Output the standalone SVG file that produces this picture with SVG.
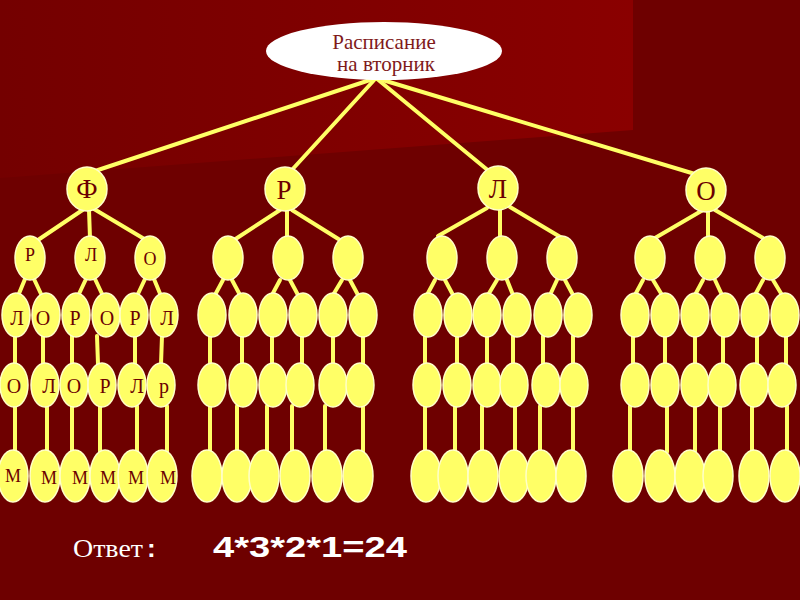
<svg xmlns="http://www.w3.org/2000/svg" width="800" height="600" viewBox="0 0 800 600">
<defs>
<linearGradient id="pg" x1="0" y1="0" x2="1" y2="0">
<stop offset="0" stop-color="#740000"/>
<stop offset="1" stop-color="#8A0000"/>
</linearGradient>
<style>
.c line{stroke:#FFFF66;stroke-width:4;stroke-linecap:round}
.n{fill:#FFFF66;stroke:#FFFFC8;stroke-width:1.5}
.t{font-family:"Liberation Serif","Times New Roman",serif;fill:#6B0000;text-anchor:middle}
.t1{font-size:27px}
.t2{font-size:18px}
.t3{font-size:20px}
.t5{font-size:18px}
</style>
</defs>
<rect width="800" height="600" fill="#6E0000"/>
<polygon points="0,0 633,0 633,130 0,178" fill="url(#pg)"/>

<g id="connectors" class="c">
<line x1="376" y1="78" x2="92" y2="172"/>
<line x1="376" y1="78" x2="290" y2="172"/>
<line x1="376" y1="78" x2="490" y2="172"/>
<line x1="376" y1="78" x2="695" y2="174"/>
<!-- Ф subtree -->
<line x1="84" y1="209" x2="38" y2="240"/><line x1="89" y1="210" x2="90" y2="238"/><line x1="94" y1="209" x2="146" y2="240"/>
<line x1="25" y1="279" x2="18" y2="296"/><line x1="34" y1="279" x2="42" y2="296"/>
<line x1="86" y1="279" x2="78" y2="296"/><line x1="95" y1="279" x2="103" y2="296"/>
<line x1="145" y1="279" x2="137" y2="296"/><line x1="154" y1="279" x2="161" y2="296"/>
<line x1="15" y1="336" x2="15" y2="364"/><line x1="43" y1="336" x2="43" y2="364"/><line x1="72" y1="336" x2="72" y2="364"/><line x1="97" y1="336" x2="98" y2="364"/><line x1="135" y1="336" x2="135" y2="364"/><line x1="162" y1="336" x2="161" y2="364"/>
<line x1="15" y1="406" x2="15" y2="452"/><line x1="47" y1="406" x2="47" y2="452"/><line x1="72" y1="406" x2="72" y2="452"/><line x1="100" y1="406" x2="100" y2="452"/><line x1="137" y1="406" x2="137" y2="452"/><line x1="167" y1="406" x2="167" y2="452"/>
<!-- Р subtree -->
<line x1="280" y1="210" x2="234" y2="240"/><line x1="287" y1="211" x2="287" y2="238"/><line x1="292" y1="210" x2="340" y2="240"/>
<line x1="223" y1="280" x2="215" y2="295"/><line x1="232" y1="280" x2="240" y2="295"/>
<line x1="280" y1="280" x2="272" y2="295"/><line x1="290" y1="280" x2="298" y2="295"/>
<line x1="342" y1="280" x2="333" y2="295"/><line x1="350" y1="280" x2="358" y2="295"/>
<line x1="210" y1="336" x2="210" y2="364"/><line x1="242" y1="336" x2="242" y2="364"/><line x1="272" y1="336" x2="272" y2="364"/><line x1="302" y1="336" x2="302" y2="364"/><line x1="333" y1="336" x2="333" y2="364"/><line x1="363" y1="336" x2="363" y2="364"/>
<line x1="210" y1="406" x2="210" y2="452"/><line x1="237" y1="406" x2="237" y2="452"/><line x1="267" y1="406" x2="267" y2="452"/><line x1="292" y1="406" x2="292" y2="452"/><line x1="325" y1="406" x2="325" y2="452"/><line x1="363" y1="406" x2="363" y2="452"/>
<!-- Л subtree -->
<line x1="487" y1="208" x2="438" y2="236"/><line x1="500" y1="210" x2="500" y2="237"/><line x1="510" y1="207" x2="562" y2="238"/>
<line x1="435" y1="280" x2="427" y2="295"/><line x1="445" y1="280" x2="453" y2="295"/>
<line x1="497" y1="280" x2="488" y2="295"/><line x1="507" y1="280" x2="513" y2="295"/>
<line x1="557" y1="280" x2="550" y2="295"/><line x1="565" y1="280" x2="573" y2="295"/>
<line x1="425" y1="336" x2="425" y2="364"/><line x1="457" y1="336" x2="457" y2="364"/><line x1="487" y1="336" x2="487" y2="364"/><line x1="513" y1="336" x2="513" y2="364"/><line x1="543" y1="336" x2="543" y2="364"/><line x1="573" y1="336" x2="573" y2="364"/>
<line x1="425" y1="406" x2="425" y2="452"/><line x1="455" y1="406" x2="455" y2="452"/><line x1="482" y1="406" x2="482" y2="452"/><line x1="515" y1="406" x2="515" y2="452"/><line x1="540" y1="406" x2="540" y2="452"/><line x1="573" y1="406" x2="573" y2="452"/>
<!-- О subtree -->
<line x1="703" y1="210" x2="655" y2="238"/><line x1="708" y1="210" x2="708" y2="238"/><line x1="715" y1="210" x2="763" y2="238"/>
<line x1="643" y1="280" x2="635" y2="295"/><line x1="653" y1="280" x2="662" y2="295"/>
<line x1="703" y1="280" x2="695" y2="295"/><line x1="715" y1="280" x2="722" y2="295"/>
<line x1="763" y1="280" x2="755" y2="295"/><line x1="773" y1="280" x2="782" y2="295"/>
<line x1="633" y1="336" x2="633" y2="364"/><line x1="665" y1="336" x2="665" y2="364"/><line x1="695" y1="336" x2="695" y2="364"/><line x1="723" y1="336" x2="723" y2="364"/><line x1="757" y1="336" x2="757" y2="364"/><line x1="786" y1="336" x2="786" y2="364"/>
<line x1="630" y1="406" x2="630" y2="452"/><line x1="667" y1="406" x2="667" y2="452"/><line x1="695" y1="406" x2="695" y2="452"/><line x1="720" y1="406" x2="720" y2="452"/><line x1="752" y1="406" x2="752" y2="452"/><line x1="787" y1="406" x2="787" y2="452"/>
</g>

<g id="root">
<ellipse cx="384" cy="51" rx="118" ry="29" fill="#FFFFFF"/>
<text x="384" y="49" font-family="Liberation Serif, serif" font-size="21" fill="#7F1A1A" text-anchor="middle">Расписание</text>
<text x="386" y="71" font-family="Liberation Serif, serif" font-size="21" fill="#7F1A1A" text-anchor="middle">на вторник</text>
</g>

<!-- Level 1 -->
<g id="F"><ellipse class="n" cx="87" cy="189" rx="20" ry="22"/><text class="t t1" x="87" y="198">Ф</text></g>
<g id="R"><ellipse class="n" cx="285" cy="189" rx="20" ry="22"/><text class="t t1" x="284" y="199">Р</text></g>
<g id="L"><ellipse class="n" cx="498" cy="188" rx="20" ry="22"/><text class="t t1" x="498" y="198">Л</text></g>
<g id="O"><ellipse class="n" cx="706" cy="190" rx="20" ry="22"/><text class="t t1" x="706" y="200">О</text></g>

<!-- Ф subtree -->
<g id="F2a"><ellipse class="n" cx="30" cy="258" rx="15" ry="22"/><text class="t t2" x="30" y="261">Р</text></g>
<g id="F2b"><ellipse class="n" cx="90" cy="258" rx="15" ry="22"/><text class="t t2" x="91" y="261">Л</text></g>
<g id="F2c"><ellipse class="n" cx="150" cy="258" rx="15" ry="22"/><text class="t t2" x="150" y="265">О</text></g>
<g id="F3a"><ellipse class="n" cx="16" cy="315" rx="14" ry="22"/><text class="t t3" x="17" y="325">Л</text></g>
<g id="F3b"><ellipse class="n" cx="46" cy="315" rx="14" ry="22"/><text class="t t3" x="43" y="325">О</text></g>
<g id="F3c"><ellipse class="n" cx="76" cy="315" rx="14" ry="22"/><text class="t t3" x="75" y="325">Р</text></g>
<g id="F3d"><ellipse class="n" cx="106" cy="315" rx="14" ry="22"/><text class="t t3" x="107" y="325">О</text></g>
<g id="F3e"><ellipse class="n" cx="134" cy="315" rx="14" ry="22"/><text class="t t3" x="135" y="325">Р</text></g>
<g id="F3f"><ellipse class="n" cx="164" cy="315" rx="14" ry="22"/><text class="t t3" x="167" y="325">Л</text></g>
<g id="F4a"><ellipse class="n" cx="14" cy="385" rx="14" ry="22"/><text class="t t3" x="14" y="393">О</text></g>
<g id="F4b"><ellipse class="n" cx="45" cy="385" rx="14" ry="22"/><text class="t t3" x="49" y="393">Л</text></g>
<g id="F4c"><ellipse class="n" cx="74" cy="385" rx="14" ry="22"/><text class="t t3" x="74" y="393">О</text></g>
<g id="F4d"><ellipse class="n" cx="102" cy="385" rx="14" ry="22"/><text class="t t3" x="105" y="393">Р</text></g>
<g id="F4e"><ellipse class="n" cx="132" cy="385" rx="14" ry="22"/><text class="t t3" x="137" y="393">Л</text></g>
<g id="F4f"><ellipse class="n" cx="161" cy="385" rx="14" ry="22"/><text class="t t3" x="164" y="393">р</text></g>
<g id="F5a"><ellipse class="n" cx="13" cy="476" rx="15" ry="26"/><text class="t t5" x="13" y="482">М</text></g>
<g id="F5b"><ellipse class="n" cx="45" cy="476" rx="15" ry="26"/><text class="t t5" x="49" y="484">М</text></g>
<g id="F5c"><ellipse class="n" cx="75" cy="476" rx="15" ry="26"/><text class="t t5" x="80" y="484">М</text></g>
<g id="F5d"><ellipse class="n" cx="105" cy="476" rx="15" ry="26"/><text class="t t5" x="108" y="484">М</text></g>
<g id="F5e"><ellipse class="n" cx="133" cy="476" rx="15" ry="26"/><text class="t t5" x="136" y="484">М</text></g>
<g id="F5f"><ellipse class="n" cx="162" cy="476" rx="15" ry="26"/><text class="t t5" x="168" y="484">М</text></g>

<!-- Р subtree -->
<g id="R2a"><ellipse class="n" cx="228" cy="258" rx="15" ry="22"/></g>
<g id="R2b"><ellipse class="n" cx="288" cy="258" rx="15" ry="22"/></g>
<g id="R2c"><ellipse class="n" cx="348" cy="258" rx="15" ry="22"/></g>
<g id="R3a"><ellipse class="n" cx="212" cy="315" rx="14" ry="22"/></g>
<g id="R3b"><ellipse class="n" cx="243" cy="315" rx="14" ry="22"/></g>
<g id="R3c"><ellipse class="n" cx="273" cy="315" rx="14" ry="22"/></g>
<g id="R3d"><ellipse class="n" cx="303" cy="315" rx="14" ry="22"/></g>
<g id="R3e"><ellipse class="n" cx="333" cy="315" rx="14" ry="22"/></g>
<g id="R3f"><ellipse class="n" cx="363" cy="315" rx="14" ry="22"/></g>
<g id="R4a"><ellipse class="n" cx="212" cy="385" rx="14" ry="22"/></g>
<g id="R4b"><ellipse class="n" cx="243" cy="385" rx="14" ry="22"/></g>
<g id="R4c"><ellipse class="n" cx="273" cy="385" rx="14" ry="22"/></g>
<g id="R4d"><ellipse class="n" cx="300" cy="385" rx="14" ry="22"/></g>
<g id="R4e"><ellipse class="n" cx="333" cy="385" rx="14" ry="22"/></g>
<g id="R4f"><ellipse class="n" cx="360" cy="385" rx="14" ry="22"/></g>
<g id="R5a"><ellipse class="n" cx="207" cy="476" rx="15" ry="26"/></g>
<g id="R5b"><ellipse class="n" cx="237" cy="476" rx="15" ry="26"/></g>
<g id="R5c"><ellipse class="n" cx="264" cy="476" rx="15" ry="26"/></g>
<g id="R5d"><ellipse class="n" cx="295" cy="476" rx="15" ry="26"/></g>
<g id="R5e"><ellipse class="n" cx="327" cy="476" rx="15" ry="26"/></g>
<g id="R5f"><ellipse class="n" cx="358" cy="476" rx="15" ry="26"/></g>

<!-- Л subtree -->
<g id="L2a"><ellipse class="n" cx="442" cy="258" rx="15" ry="22"/></g>
<g id="L2b"><ellipse class="n" cx="502" cy="258" rx="15" ry="22"/></g>
<g id="L2c"><ellipse class="n" cx="562" cy="258" rx="15" ry="22"/></g>
<g id="L3a"><ellipse class="n" cx="428" cy="315" rx="14" ry="22"/></g>
<g id="L3b"><ellipse class="n" cx="458" cy="315" rx="14" ry="22"/></g>
<g id="L3c"><ellipse class="n" cx="487" cy="315" rx="14" ry="22"/></g>
<g id="L3d"><ellipse class="n" cx="517" cy="315" rx="14" ry="22"/></g>
<g id="L3e"><ellipse class="n" cx="548" cy="315" rx="14" ry="22"/></g>
<g id="L3f"><ellipse class="n" cx="578" cy="315" rx="14" ry="22"/></g>
<g id="L4a"><ellipse class="n" cx="427" cy="385" rx="14" ry="22"/></g>
<g id="L4b"><ellipse class="n" cx="457" cy="385" rx="14" ry="22"/></g>
<g id="L4c"><ellipse class="n" cx="487" cy="385" rx="14" ry="22"/></g>
<g id="L4d"><ellipse class="n" cx="514" cy="385" rx="14" ry="22"/></g>
<g id="L4e"><ellipse class="n" cx="546" cy="385" rx="14" ry="22"/></g>
<g id="L4f"><ellipse class="n" cx="574" cy="385" rx="14" ry="22"/></g>
<g id="L5a"><ellipse class="n" cx="426" cy="476" rx="15" ry="26"/></g>
<g id="L5b"><ellipse class="n" cx="453" cy="476" rx="15" ry="26"/></g>
<g id="L5c"><ellipse class="n" cx="483" cy="476" rx="15" ry="26"/></g>
<g id="L5d"><ellipse class="n" cx="514" cy="476" rx="15" ry="26"/></g>
<g id="L5e"><ellipse class="n" cx="541" cy="476" rx="15" ry="26"/></g>
<g id="L5f"><ellipse class="n" cx="571" cy="476" rx="15" ry="26"/></g>

<!-- О subtree -->
<g id="O2a"><ellipse class="n" cx="650" cy="258" rx="15" ry="22"/></g>
<g id="O2b"><ellipse class="n" cx="710" cy="258" rx="15" ry="22"/></g>
<g id="O2c"><ellipse class="n" cx="770" cy="258" rx="15" ry="22"/></g>
<g id="O3a"><ellipse class="n" cx="635" cy="315" rx="14" ry="22"/></g>
<g id="O3b"><ellipse class="n" cx="665" cy="315" rx="14" ry="22"/></g>
<g id="O3c"><ellipse class="n" cx="695" cy="315" rx="14" ry="22"/></g>
<g id="O3d"><ellipse class="n" cx="725" cy="315" rx="14" ry="22"/></g>
<g id="O3e"><ellipse class="n" cx="755" cy="315" rx="14" ry="22"/></g>
<g id="O3f"><ellipse class="n" cx="785" cy="315" rx="14" ry="22"/></g>
<g id="O4a"><ellipse class="n" cx="635" cy="385" rx="14" ry="22"/></g>
<g id="O4b"><ellipse class="n" cx="665" cy="385" rx="14" ry="22"/></g>
<g id="O4c"><ellipse class="n" cx="695" cy="385" rx="14" ry="22"/></g>
<g id="O4d"><ellipse class="n" cx="722" cy="385" rx="14" ry="22"/></g>
<g id="O4e"><ellipse class="n" cx="754" cy="385" rx="14" ry="22"/></g>
<g id="O4f"><ellipse class="n" cx="782" cy="385" rx="14" ry="22"/></g>
<g id="O5a"><ellipse class="n" cx="628" cy="476" rx="15" ry="26"/></g>
<g id="O5b"><ellipse class="n" cx="660" cy="476" rx="15" ry="26"/></g>
<g id="O5c"><ellipse class="n" cx="690" cy="476" rx="15" ry="26"/></g>
<g id="O5d"><ellipse class="n" cx="718" cy="476" rx="15" ry="26"/></g>
<g id="O5e"><ellipse class="n" cx="754" cy="476" rx="15" ry="26"/></g>
<g id="O5f"><ellipse class="n" cx="785" cy="476" rx="15" ry="26"/></g>

<g id="answer">
<text x="73" y="557" font-family="Liberation Serif, serif" font-size="26" fill="#FFFFFF" textLength="70" lengthAdjust="spacingAndGlyphs">Ответ</text>
<text x="147" y="557" font-family="Liberation Sans, Arial, sans-serif" font-weight="bold" font-size="26" fill="#FFFFFF">:</text>
<text x="213" y="557" font-family="Liberation Sans, Arial, sans-serif" font-weight="bold" font-size="30" fill="#FFFFFF" textLength="194" lengthAdjust="spacingAndGlyphs">4*3*2*1=24</text>
</g>
</svg>
